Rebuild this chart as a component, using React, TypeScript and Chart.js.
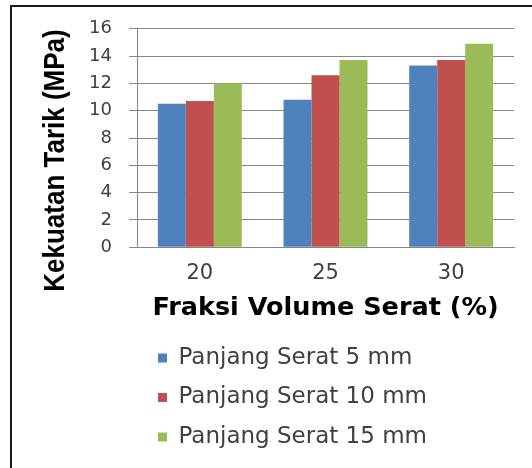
import React, { useEffect, useRef } from 'react';
import { Chart, registerables } from 'chart.js';

Chart.register(...registerables);

// ---- data ----
const categories = ['20', '25', '30'];
const seriesLabels = ['Panjang Serat 5 mm', 'Panjang Serat 10 mm', 'Panjang Serat 15 mm'];
const serat5mm = [10.5, 10.8, 13.3];
const serat10mm = [10.7, 12.6, 13.7];
const serat15mm = [12.0, 13.7, 14.9];
const seriesColors = ['#4F81BD', '#C0504D', '#9BBB59'];
const yMin = 0;
const yMax = 16;
const yStep = 2;
const xTitle = 'Fraksi Volume Serat (%)';
const yTitle = 'Kekuatan Tarik (MPa)';

const W = 532;
const H = 468;

const decorPlugin = {
  id: 'decor',
  beforeDraw(chart: any) {
    const ctx = chart.ctx;
    ctx.save();
    ctx.fillStyle = '#ffffff';
    ctx.fillRect(0, 0, chart.width, chart.height);
    ctx.fillStyle = '#1a1a1a';
    ctx.fillRect(10, 5, chart.width - 10, 2);
    ctx.fillRect(10, 5, 2, chart.height - 5);
    ctx.restore();
  },
  afterLayout(chart: any) {
    const lg = chart.legend;
    if (lg) {
      const w = lg.right - lg.left;
      lg.left = 141.5;
      lg.right = lg.left + w;
    }
  },
  afterDraw(chart: any) {
    const ctx = chart.ctx;
    ctx.save();
    ctx.translate(55.8, 160.5);
    ctx.rotate(-Math.PI / 2);
    ctx.scale(1, 1.13);
    ctx.font = 'bold 26px "Liberation Sans", Arial, sans-serif';
    ctx.fillStyle = '#000000';
    ctx.textAlign = 'center';
    ctx.textBaseline = 'middle';
    ctx.fillText(yTitle, 0, 0);
    ctx.restore();
  },
};

export default function App() {
  const ref = useRef<HTMLCanvasElement | null>(null);

  useEffect(() => {
    if (!ref.current) return;
    const seriesData = [serat5mm, serat10mm, serat15mm];
    const chart = new Chart(ref.current, {
      type: 'bar',
      data: {
        labels: categories,
        datasets: seriesData.map((d, i) => ({
          label: seriesLabels[i],
          data: d,
          backgroundColor: seriesColors[i],
          borderWidth: 0,
          categoryPercentage: 0.668,
          barPercentage: 1,
        })),
      },
      options: {
        responsive: false,
        animation: false,
        events: [],
        layout: { padding: { left: 0, right: 18, top: 28.7, bottom: 9.5 } },
        plugins: {
          tooltip: { enabled: false },
          legend: {
            display: true,
            position: 'bottom',
            align: 'start',
            labels: {
              boxWidth: 9,
              boxHeight: 9,
              padding: 16.5,
              color: '#404040',
              font: { family: '"DejaVu Sans"', size: 23 },
            },
          },
        },
        scales: {
          x: {
            grid: { display: false, drawTicks: false },
            border: { display: true, color: '#868686' },
            ticks: {
              padding: 14,
              color: '#404040',
              font: { family: '"DejaVu Sans"', size: 21 },
            },
            title: {
              display: true,
              text: xTitle,
              color: '#000000',
              padding: { top: 0, bottom: 6 },
              font: { family: '"DejaVu Sans"', size: 25.5, weight: 'bold' },
            },
            afterFit(scale: any) {
              scale.height = 82.7;
            },
          },
          y: {
            min: yMin,
            max: yMax,
            ticks: {
              stepSize: yStep,
              padding: 17,
              color: '#404040',
              font: { family: '"DejaVu Sans"', size: 18 },
            },
            grid: { color: '#868686', lineWidth: 1, drawTicks: true, tickLength: 8, tickColor: '#868686' },
            border: { display: true, color: '#868686' },
            afterFit(scale: any) {
              scale.width = 137;
            },
          },
        },
      },
      plugins: [decorPlugin],
    } as any);
    return () => chart.destroy();
  }, []);

  return (
    <div style={{ position: 'fixed', left: 0, top: 0, width: W, height: H, overflow: 'hidden', background: '#fff' }}>
      <canvas ref={ref} width={W} height={H} style={{ display: 'block' }} />
    </div>
  );
}
